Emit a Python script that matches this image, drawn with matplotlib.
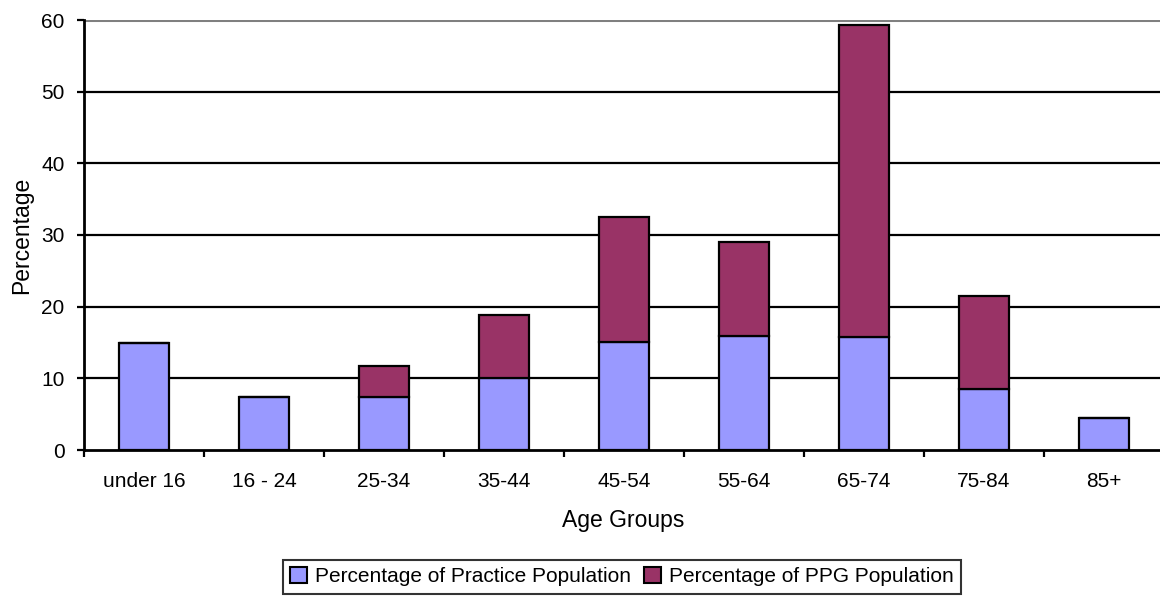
import matplotlib.pyplot as plt
import numpy as np
from matplotlib.patches import Patch

age_groups = ['under 16', '16 - 24', '25-34', '35-44', '45-54', '55-64', '65-74', '75-84', '85+']
practice_pct = [15.0, 7.35, 7.4, 10.1, 15.1, 15.9, 15.7, 8.5, 4.4]
ppg_pct = [0.0, 0.0, 4.35, 8.8, 17.4, 13.1, 43.6, 13.0, 0.0]

plt.rcParams['font.family'] = ['Liberation Sans', 'DejaVu Sans']

W, H = 1160, 597
fig = plt.figure(figsize=(W / 100, H / 100), dpi=100)
# axes box in pixels: left 84, right 1164, top 20, bottom 450
ax = fig.add_axes([84 / W, (H - 450) / H, (1164 - 84) / W, (450 - 20) / H])

x = np.arange(len(age_groups))
blue = '#9999ff'
plum = '#993366'
ax.bar(x, practice_pct, width=0.41, color=blue, edgecolor='black', linewidth=1.6, zorder=3)
ax.bar(x, ppg_pct, width=0.41, bottom=practice_pct, color=plum, edgecolor='black', linewidth=1.6, zorder=3)

ax.set_xlim(-0.5, len(age_groups) - 0.5)
ax.set_ylim(0, 60)
ax.set_yticks(range(0, 61, 10))
for v in range(10, 60, 10):
    ax.axhline(v, color='black', linewidth=1.6, zorder=1)
ax.axhline(60, color='#808080', linewidth=2.2, zorder=1)

ax.set_xticks(x)
ax.set_xticklabels(age_groups, fontsize=15)
ax.set_xticks(np.arange(-0.5, len(age_groups), 1.0), minor=True)
ax.tick_params(axis='x', which='major', length=0, pad=16)
ax.tick_params(axis='x', which='minor', length=5, width=1.6, direction='out')
ax.tick_params(axis='y', length=5, width=1.6, labelsize=15, pad=9)

for s in ['top', 'right']:
    ax.spines[s].set_visible(False)
ax.spines['left'].set_linewidth(2)
ax.spines['bottom'].set_linewidth(2)

fig.text(22 / W, 1 - 235 / H, 'Percentage', rotation=90, ha='center', va='center', fontsize=16.5)
fig.text(623 / W, 1 - 521 / H, 'Age Groups', ha='center', va='center', fontsize=16.5)

handles = [Patch(facecolor=blue, edgecolor='black', linewidth=1.5, label='Percentage of Practice Population'),
           Patch(facecolor=plum, edgecolor='black', linewidth=1.5, label='Percentage of PPG Population')]
leg = fig.legend(handles=handles, loc='upper center', bbox_to_anchor=(622 / W, 1 - 560 / H), ncol=2,
                 fontsize=15, frameon=True, fancybox=False, edgecolor='black',
                 handlelength=0.8, handleheight=0.8, handletextpad=0.4, columnspacing=0.6,
                 borderpad=0.35, borderaxespad=0)
leg.get_frame().set_linewidth(1.5)

fig.savefig('out.png', dpi=100)
